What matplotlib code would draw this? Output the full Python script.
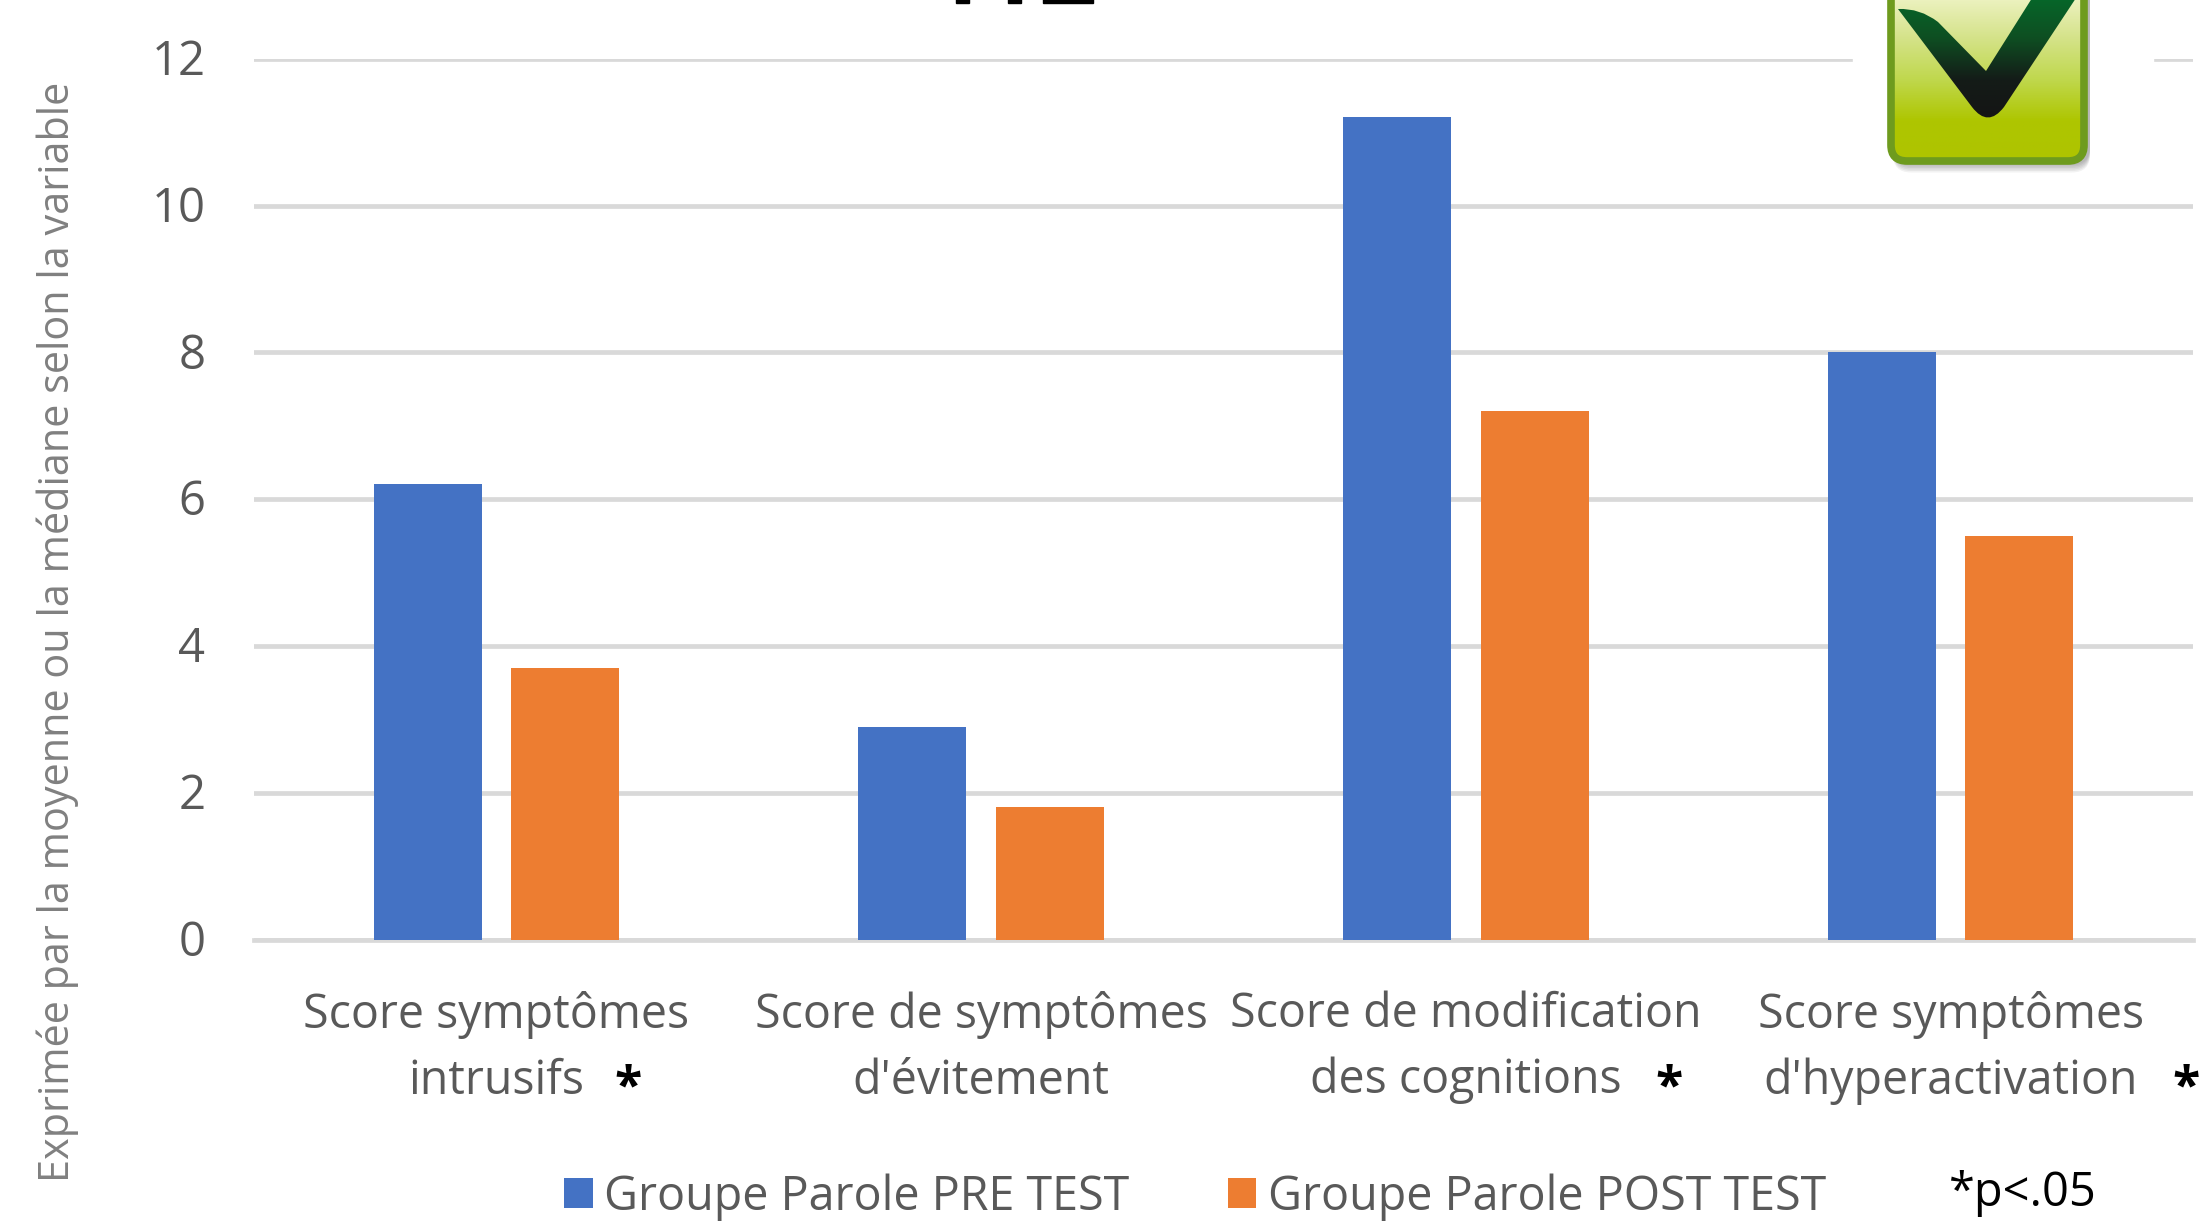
import numpy as np
import matplotlib
matplotlib.use("Agg")
import matplotlib.pyplot as plt
from matplotlib.colors import LinearSegmentedColormap
from matplotlib.patches import FancyBboxPatch, PathPatch, Rectangle
from matplotlib.path import Path
from matplotlib.transforms import ScaledTranslation

plt.rcParams['font.family'] = ['Open Sans', 'DejaVu Sans']

categories = ["Score symptômes\nintrusifs", "Score de symptômes\nd'évitement",
              "Score de modification\ndes cognitions", "Score symptômes\nd'hyperactivation"]
pre_test = [6.2, 2.9, 11.2, 8.0]
post_test = [3.7, 1.8, 7.2, 5.5]
yticks = [0, 2, 4, 6, 8, 10, 12]
stars = [True, False, True, True]

W, H = 2199, 1230
fig = plt.figure(figsize=(W / 100, H / 100), dpi=100)

# axes placed so y=0 and y=12 land on the reference gridlines
left, right, y0, y12 = 254, 2193, 939.5, 58.7
ax = fig.add_axes([left / W, 1 - y0 / H, (right - left) / W, (y0 - y12) / H])

x = np.arange(len(categories))
ax.bar(x - 0.142, pre_test, 0.2227, color="#4472C4", label="Groupe Parole PRE TEST", zorder=3)
ax.bar(x + 0.142, post_test, 0.2227, color="#ED7D31", label="Groupe Parole POST TEST", zorder=3)

ax.set_xlim(-0.5, 3.5)
ax.set_ylim(0, 12)
ax.set_yticks(yticks)
ax.set_xticks(x)
ax.set_xticklabels(categories, linespacing=1.5)
ax.tick_params(axis='x', length=0, pad=37, labelsize=33.5, colors="#595959")
ax.tick_params(axis='y', length=0, pad=35, labelsize=34, colors="#595959")
for lab in ax.get_yticklabels():
    lab.set_transform(lab.get_transform() + ScaledTranslation(0, 2 / 100, fig.dpi_scale_trans))
ax.grid(axis='y', color="#D9D9D9", linewidth=3.4, zorder=0)
ax.set_axisbelow(True)
for s in ax.spines.values():
    s.set_visible(False)
ax.spines['bottom'].set_visible(True)
ax.spines['bottom'].set_color("#D9D9D9")
ax.spines['bottom'].set_linewidth(3.4)

fig.text(58 / W, 1 - 632 / H, "Exprimée par la moyenne ou la médiane selon la variable",
         rotation=90, ha='center', va='center', fontsize=29.9, color="#808080")

ax.legend(loc='center', bbox_to_anchor=(1195 / W, 1 - 1197 / H), bbox_transform=fig.transFigure,
          ncol=2, frameon=False, fontsize=33.6, labelcolor="#595959", handlelength=0.62,
          handleheight=0.6, handletextpad=0.24, columnspacing=2.1)
fig.text(1949 / W, 1 - 1193 / H, "*p<.05", ha='left', va='center', fontsize=33.8, color="black")

# overlay in pixel coordinates for the pasted icon, stars and cropped title
ov = fig.add_axes([0, 0, 1, 1], zorder=5)
ov.set_xlim(0, W)
ov.set_ylim(H, 0)
ov.axis('off')
ov.patch.set_alpha(0)

star_x = [628, 0, 1669, 2186]
for sx, st in zip(star_x, stars):
    if st:
        ov.text(sx, 1088, "*", ha='center', va='center', fontsize=36, fontweight='bold', color="black")

# bottoms of the title letters cut off by the crop
ov.add_patch(Rectangle((956, -5), 13, 8, color="black"))
ov.add_patch(Rectangle((1008, -5), 13, 8, color="black"))
ov.add_patch(Rectangle((1043, -5), 50, 8, color="black"))

# check mark icon
ov.add_patch(Rectangle((1853, -2), 300, 192, color="white", zorder=1))
for i in range(6):
    ov.add_patch(FancyBboxPatch((1889 + 4, -40), 197, 203 + 2 + i * 1.5, boxstyle="round,pad=0,rounding_size=18",
                                fc="#000000", ec="none", alpha=0.05, zorder=2))
box = FancyBboxPatch((1891, -40), 193, 201, boxstyle="round,pad=0,rounding_size=16",
                     fc="none", ec="#6E9B1E", lw=5.5, zorder=5)
green = LinearSegmentedColormap.from_list("g", ["#EEF3C4", "#D5E38A", "#C0D84E", "#AEC600", "#AEC400"])
im = ov.imshow(np.linspace(0, 1, 200).reshape(-1, 1), extent=(1889, 2086, 163, -5), cmap=green,
               aspect='auto', zorder=3)
clip = FancyBboxPatch((1891, -40), 193, 201, boxstyle="round,pad=0,rounding_size=16",
                      fc="none", ec="none", transform=ov.transData)
ov.add_patch(clip)
im.set_clip_path(clip)
ov.add_patch(box)

verts = [(1898, 9), (1920, 8), (1938, 22), (1986, 71), (2034, -5), (2078, -5), (2004, 107),
         (1988, 128), (1972, 107), (1898, 9)]
codes = [Path.MOVETO, Path.CURVE3, Path.CURVE3, Path.LINETO, Path.LINETO, Path.LINETO, Path.LINETO,
         Path.CURVE3, Path.CURVE3, Path.LINETO]
check = PathPatch(Path(verts, codes), fc="none", ec="none", transform=ov.transData)
ov.add_patch(check)
dark = LinearSegmentedColormap.from_list("d", ["#06682A", "#0E4F22", "#141C18", "#141414"])
im2 = ov.imshow(np.linspace(0, 1, 200).reshape(-1, 1), extent=(1889, 2086, 122, -5), cmap=dark,
                aspect='auto', zorder=4)
im2.set_clip_path(check)
ov.set_xlim(0, W)
ov.set_ylim(H, 0)

fig.savefig("out.png", dpi=100)
